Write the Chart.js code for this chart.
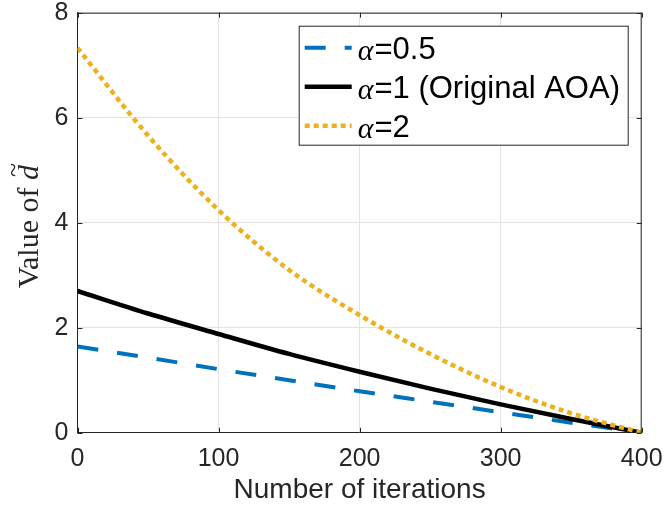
<!DOCTYPE html>
<html>
<head>
<meta charset="UTF-8">
<script src="https://cdn.jsdelivr.net/npm/chart.js@4.4.1/dist/chart.umd.min.js"></script>
<style>
html, body { margin: 0; padding: 0; background: #fff; }
#wrap { width: 664px; height: 513px; }
</style>
</head>
<body>
<div id="wrap"><canvas id="c" width="664" height="513"></canvas></div>
<script>
// iterations on the x axis
var iterations = [0, 50, 100, 150, 200, 250, 300, 350, 400];
// value of d~ for each alpha
var alphaHalf = [1.64, 1.43, 1.21, 1.00, 0.79, 0.59, 0.39, 0.19, 0];
var alphaOne = [2.70, 2.27, 1.88, 1.50, 1.16, 0.84, 0.54, 0.26, 0];
var alphaTwo = [7.33, 5.66, 4.24, 3.10, 2.24, 1.50, 0.87, 0.37, 0];
var xTicks = [0, 100, 200, 300, 400];
var yTicks = [0, 2, 4, 6, 8];
var legendParts = [['\u03b1', '=0.5'], ['\u03b1', '=1 (Original AOA)'], ['\u03b1', '=2']];

var AXIS = '#262626';
var SANS = '"Liberation Sans", Arial, sans-serif';
var SERIF = '"Liberation Serif", "Times New Roman", serif';

function pts(ys) {
    return iterations.map(function(x, i) { return {x: x, y: ys[i]}; });
}

function noPad(s) {
    s.paddingTop = 0; s.paddingBottom = 0; s.paddingLeft = 0; s.paddingRight = 0;
}

// box round the plot, inward ticks
var boxPlugin = {
    id: 'box',
    afterDatasetsDraw: function(chart) {
        var a = chart.chartArea, ctx = chart.ctx;
        var xs = chart.scales.x, ys = chart.scales.y;
        ctx.save();
        ctx.strokeStyle = AXIS;
        ctx.lineWidth = 1;
        ctx.beginPath();
        ctx.moveTo(a.left, a.top + 0.5); ctx.lineTo(a.right, a.top + 0.5);
        ctx.moveTo(a.right - 0.5, a.top); ctx.lineTo(a.right - 0.5, a.bottom);
        xTicks.forEach(function(v) {
            var px = Math.round(xs.getPixelForValue(v)) + 0.5;
            ctx.moveTo(px, a.bottom); ctx.lineTo(px, a.bottom - 5);
            ctx.moveTo(px, a.top); ctx.lineTo(px, a.top + 5);
        });
        yTicks.forEach(function(v) {
            var py = Math.round(ys.getPixelForValue(v)) + 0.5;
            ctx.moveTo(a.left, py); ctx.lineTo(a.left + 5, py);
            ctx.moveTo(a.right, py); ctx.lineTo(a.right - 5, py);
        });
        ctx.stroke();
        ctx.restore();
    }
};

// y title with italic d and tilde
var yTitlePlugin = {
    id: 'ytitle',
    afterDraw: function(chart) {
        var a = chart.chartArea, ctx = chart.ctx;
        var fs = 30;
        ctx.save();
        ctx.translate(38, (a.top + a.bottom) / 2 + 4);
        ctx.rotate(-Math.PI / 2);
        ctx.fillStyle = AXIS;
        ctx.textBaseline = 'alphabetic';
        ctx.font = fs + 'px ' + SERIF;
        var t1 = 'Value of ';
        var w1 = ctx.measureText(t1).width;
        ctx.font = 'italic ' + fs + 'px ' + SERIF;
        var w2 = ctx.measureText('d').width;
        var x0 = -(w1 + w2) / 2;
        ctx.font = fs + 'px ' + SERIF;
        ctx.fillText(t1, x0, 0);
        ctx.font = 'italic ' + fs + 'px ' + SERIF;
        ctx.fillText('d', x0 + w1, 0);
        ctx.font = (fs - 4) + 'px ' + SERIF;
        ctx.fillText('~', x0 + w1 + 3, -17);
        ctx.restore();
    }
};

// boxed legend in the upper right
var legendPlugin = {
    id: 'boxLegend',
    afterDraw: function(chart) {
        var a = chart.chartArea, ctx = chart.ctx;
        var bw = 329, bh = 119;
        var bx = a.right - 14 - bw, by = a.top + 13;
        ctx.save();
        ctx.fillStyle = '#fff';
        ctx.fillRect(bx, by, bw, bh);
        ctx.strokeStyle = AXIS;
        ctx.lineWidth = 1;
        ctx.strokeRect(bx + 0.5, by + 0.5, bw, bh);
        chart.data.datasets.forEach(function(ds, i) {
            var cy = by + 22 + i * 39;
            ctx.strokeStyle = ds.borderColor;
            ctx.lineWidth = ds.borderWidth;
            ctx.setLineDash(ds.borderDash || []);
            ctx.lineCap = 'butt';
            ctx.beginPath();
            ctx.moveTo(bx + 6, cy);
            ctx.lineTo(bx + 53, cy);
            ctx.stroke();
            ctx.setLineDash([]);
            ctx.fillStyle = '#000';
            ctx.textBaseline = 'middle';
            var tx = bx + 59;
            ctx.font = 'italic 30px ' + SERIF;
            ctx.fillText(legendParts[i][0], tx, cy + 4);
            tx += ctx.measureText(legendParts[i][0]).width + 1;
            ctx.font = '31px ' + SANS;
            ctx.fillText(legendParts[i][1], tx, cy + 3);
        });
        ctx.restore();
    }
};

new Chart(document.getElementById('c'), {
    type: 'line',
    data: {
        datasets: [
            { label: '\u03b1=0.5', data: pts(alphaHalf), borderColor: '#0072BD', borderWidth: 4,
              borderDash: [21, 19], order: 3 },
            { label: '\u03b1=1 (Original AOA)', data: pts(alphaOne), borderColor: '#000000', borderWidth: 4.5,
              order: 2 },
            { label: '\u03b1=2', data: pts(alphaTwo), borderColor: '#EDB120', borderWidth: 4.5,
              borderDash: [5, 4], order: 1 }
        ]
    },
    options: {
        responsive: false,
        animation: false,
        events: [],
        elements: {
            point: { radius: 0 },
            line: { cubicInterpolationMode: 'monotone', fill: false, borderCapStyle: 'butt' }
        },
        layout: { padding: { top: 12.7, right: 22.3, left: 0, bottom: 0 } },
        plugins: { legend: { display: false }, tooltip: { enabled: false } },
        scales: {
            x: {
                type: 'linear', min: 0, max: 400,
                afterBuildTicks: function(s) { s.ticks = xTicks.map(function(v) { return {value: v}; }); },
                afterFit: function(s) { s.height = 80.3; noPad(s); },
                ticks: { color: AXIS, font: { family: SANS, size: 25 }, padding: 11, maxRotation: 0 },
                grid: { color: '#e3e3e3', drawTicks: false, lineWidth: 1 },
                border: { color: AXIS, width: 1 },
                title: { display: true, text: 'Number of iterations', color: AXIS,
                         font: { family: SANS, size: 28 }, padding: { top: 0, bottom: 6 } }
            },
            y: {
                type: 'linear', min: 0, max: 8,
                afterBuildTicks: function(s) { s.ticks = yTicks.map(function(v) { return {value: v}; }); },
                afterFit: function(s) { s.width = 77.5; noPad(s); },
                ticks: { color: AXIS, font: { family: SANS, size: 25 }, padding: 9 },
                grid: { color: '#e3e3e3', drawTicks: false, lineWidth: 1 },
                border: { color: AXIS, width: 1 }
            }
        }
    },
    plugins: [boxPlugin, yTitlePlugin, legendPlugin]
});
</script>
</body>
</html>
